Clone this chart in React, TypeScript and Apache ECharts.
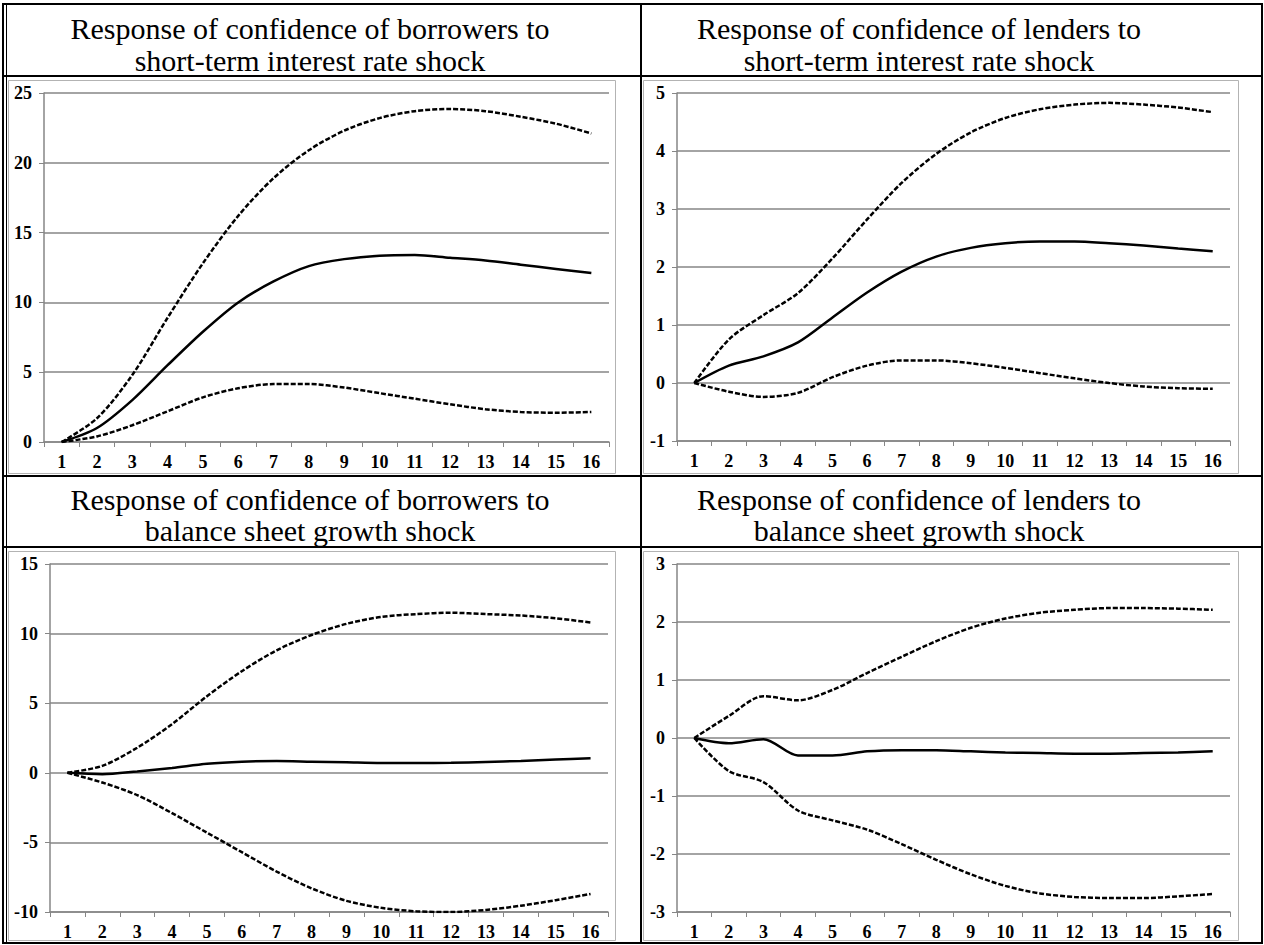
import React, { useEffect, useRef } from "react";
import * as echarts from "echarts";

const periods = ["1", "2", "3", "4", "5", "6", "7", "8", "9", "10", "11", "12", "13", "14", "15", "16"];

const titles = [
  ["Response of confidence of borrowers to", "short-term interest rate shock"],
  ["Response of confidence of lenders to", "short-term interest rate shock"],
  ["Response of confidence of borrowers to", "balance sheet growth shock"],
  ["Response of confidence of lenders to", "balance sheet growth shock"],
];

// Panel 1: borrowers, short-term interest rate shock
const borRateUpper = [0, 1.7, 4.8, 8.9, 12.8, 16.2, 18.9, 20.9, 22.3, 23.2, 23.7, 23.85, 23.7, 23.3, 22.8, 22.1];
const borRateMid = [0, 1.0, 3.0, 5.5, 7.9, 10.0, 11.5, 12.6, 13.1, 13.35, 13.4, 13.2, 13.0, 12.7, 12.4, 12.1];
const borRateLower = [0, 0.4, 1.2, 2.2, 3.2, 3.85, 4.15, 4.15, 3.9, 3.5, 3.1, 2.7, 2.35, 2.15, 2.1, 2.15];

// Panel 2: lenders, short-term interest rate shock
const lenRateUpper = [0, 0.75, 1.17, 1.55, 2.15, 2.82, 3.45, 3.95, 4.32, 4.57, 4.72, 4.8, 4.83, 4.8, 4.75, 4.67];
const lenRateMid = [0, 0.3, 0.46, 0.7, 1.13, 1.56, 1.92, 2.18, 2.33, 2.41, 2.44, 2.44, 2.41, 2.37, 2.32, 2.27];
const lenRateLower = [0, -0.15, -0.24, -0.17, 0.1, 0.3, 0.39, 0.39, 0.34, 0.26, 0.17, 0.08, 0.0, -0.06, -0.09, -0.1];

// Panel 3: borrowers, balance sheet growth shock
const borBalUpper = [0, 0.5, 1.8, 3.5, 5.5, 7.3, 8.8, 9.9, 10.7, 11.2, 11.4, 11.5, 11.4, 11.3, 11.1, 10.8];
const borBalMid = [0, -0.1, 0.1, 0.35, 0.65, 0.8, 0.85, 0.8, 0.75, 0.7, 0.7, 0.72, 0.78, 0.85, 0.95, 1.05];
const borBalLower = [0, -0.7, -1.6, -2.9, -4.3, -5.7, -7.1, -8.3, -9.2, -9.7, -9.95, -10.0, -9.85, -9.55, -9.15, -8.7];

// Panel 4: lenders, balance sheet growth shock
const lenBalUpper = [0, 0.38, 0.72, 0.65, 0.83, 1.12, 1.4, 1.67, 1.9, 2.06, 2.16, 2.21, 2.24, 2.24, 2.23, 2.21];
const lenBalMid = [0, -0.09, -0.02, -0.3, -0.3, -0.23, -0.21, -0.21, -0.23, -0.25, -0.26, -0.27, -0.27, -0.26, -0.25, -0.23];
const lenBalLower = [0, -0.57, -0.76, -1.25, -1.42, -1.58, -1.83, -2.1, -2.35, -2.55, -2.68, -2.74, -2.76, -2.76, -2.73, -2.69];

const yMin = [0, -1, -10, -3];
const yMax = [25, 5, 15, 3];
const yStep = [5, 1, 5, 1];

const panelSeries = [
  [borRateUpper, borRateMid, borRateLower],
  [lenRateUpper, lenRateMid, lenRateLower],
  [borBalUpper, borBalMid, borBalLower],
  [lenBalUpper, lenBalMid, lenBalLower],
];

const FONT = "Liberation Serif";

export default function App() {
  const ref = useRef<HTMLDivElement>(null);
  useEffect(() => {
    if (!ref.current) return;
    const chart = echarts.init(ref.current, undefined, { renderer: "svg" });

    const divX = 641;
    const hLines = [76, 476, 547];
    const gridPos = [
      { left: 44, width: 565, top: 93, height: 349 },
      { left: 677, width: 553, top: 93, height: 348 },
      { left: 50, width: 558, top: 564, height: 348 },
      { left: 677, width: 553, top: 564, height: 348 },
    ];
    const panelBoxes = [
      { x: 8, y: 80, w: 607, h: 393 },
      { x: 643, y: 80, w: 595, h: 393 },
      { x: 8, y: 551, w: 607, h: 389 },
      { x: 643, y: 551, w: 595, h: 389 },
    ];
    const titleCenters = [310, 919, 310, 919];
    const titleY = [
      [28, 60],
      [28, 60],
      [499, 530],
      [499, 530],
    ];

    const graphics: any[] = [];
    panelBoxes.forEach((b) => {
      graphics.push({
        type: "rect",
        shape: { x: b.x + 0.5, y: b.y + 0.5, width: b.w, height: b.h },
        style: { fill: "none", stroke: "#b3b3b3", lineWidth: 1 },
        silent: true,
      });
    });
    graphics.push({
      type: "rect",
      shape: { x: 3, y: 4, width: 1259, height: 939 },
      style: { fill: "none", stroke: "#000", lineWidth: 2 },
      silent: true,
    });
    graphics.push({
      type: "line",
      shape: { x1: 6.5, y1: 4, x2: 6.5, y2: 943 },
      style: { stroke: "#000", lineWidth: 1 },
      silent: true,
    });
    hLines.forEach((y) => {
      graphics.push({
        type: "line",
        shape: { x1: 3, y1: y, x2: 1262, y2: y },
        style: { stroke: "#000", lineWidth: 2 },
        silent: true,
      });
    });
    graphics.push({
      type: "line",
      shape: { x1: divX, y1: 4, x2: divX, y2: 943 },
      style: { stroke: "#000", lineWidth: 2 },
      silent: true,
    });
    titles.forEach((t, i) => {
      t.forEach((line, j) => {
        graphics.push({
          type: "text",
          x: titleCenters[i],
          y: titleY[i][j],
          style: {
            text: line,
            fontFamily: FONT,
            fontSize: 30,
            fill: "#000",
            textAlign: "center",
            textVerticalAlign: "middle",
          },
          silent: true,
        });
      });
    });

    const labelStyle = {
      color: "#000",
      fontFamily: FONT,
      fontWeight: "bold",
      fontSize: 18,
    };

    const xAxes = gridPos.map((_, i) => ({
      type: "category",
      gridIndex: i,
      data: periods,
      boundaryGap: true,
      axisLine: { show: true, onZero: false, lineStyle: { color: "#868686", width: 1.5 } },
      axisTick: { show: true, alignWithLabel: false, interval: 0, length: 5, lineStyle: { color: "#868686" } },
      axisLabel: { interval: 0, margin: 11, ...labelStyle },
      splitLine: { show: false },
    }));
    const yAxes = gridPos.map((_, i) => ({
      type: "value",
      gridIndex: i,
      min: yMin[i],
      max: yMax[i],
      interval: yStep[i],
      axisLine: { show: true, onZero: false, lineStyle: { color: "#868686", width: 1.5 } },
      axisTick: { show: true, length: 5, lineStyle: { color: "#868686" } },
      axisLabel: { margin: 12, ...labelStyle },
      splitLine: { show: true, lineStyle: { color: "#868686", width: 1.5 } },
    }));

    const series: any[] = [];
    panelSeries.forEach((set, i) => {
      set.forEach((data, k) => {
        series.push({
          type: "line",
          xAxisIndex: i,
          yAxisIndex: i,
          data,
          smooth: 0.3,
          showSymbol: false,
          symbol: "none",
          lineStyle: {
            color: "#000",
            width: 2.5,
            type: k === 1 ? "solid" : [5, 2],
          },
          silent: true,
          z: 3,
        });
      });
    });

    chart.setOption({
      animation: false,
      backgroundColor: "#fff",
      grid: gridPos,
      xAxis: xAxes,
      yAxis: yAxes,
      series,
      graphic: graphics,
    });
    return () => chart.dispose();
  }, []);

  return (
    <div
      ref={ref}
      style={{ position: "fixed", left: 0, top: 0, width: 1264, height: 945 }}
    />
  );
}
